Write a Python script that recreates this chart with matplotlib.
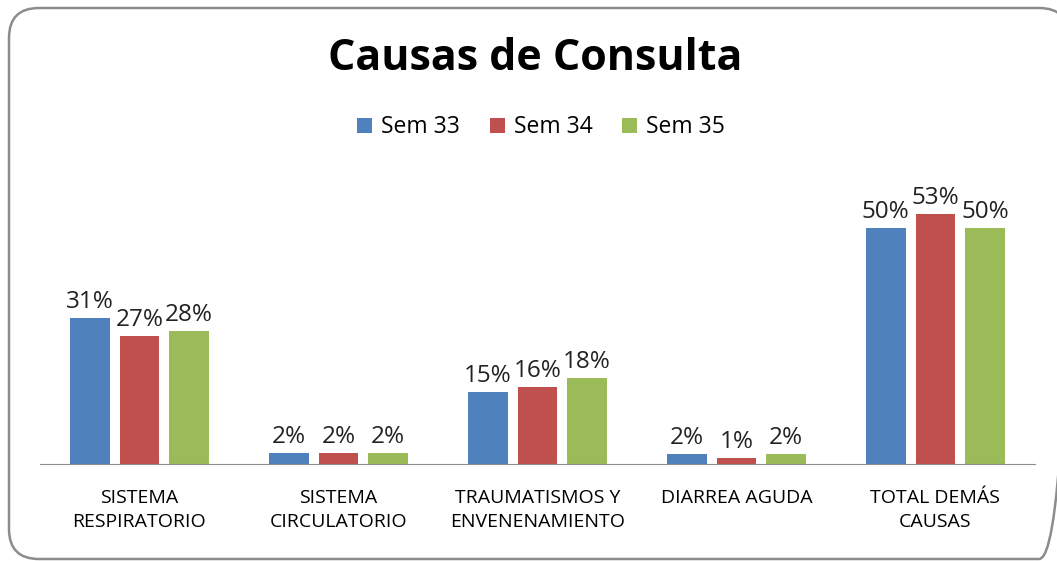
import numpy as np
import matplotlib.pyplot as plt
from matplotlib.patches import FancyBboxPatch

# Data
categories = ['SISTEMA\nRESPIRATORIO', 'SISTEMA\nCIRCULATORIO', 'TRAUMATISMOS Y\nENVENENAMIENTO',
              'DIARREA AGUDA', 'TOTAL DEMÁS\nCAUSAS']
series_names = ['Sem 33', 'Sem 34', 'Sem 35']
sem33 = [0.312, 0.023, 0.154, 0.022, 0.504]
sem34 = [0.274, 0.023, 0.164, 0.012, 0.534]
sem35 = [0.284, 0.023, 0.184, 0.021, 0.504]
colors = ['#4F81BD', '#C0504D', '#9BBB59']

plt.rcParams['font.family'] = ['Open Sans', 'DejaVu Sans']

fig = plt.figure(figsize=(10.57, 5.61), dpi=100)

# background axes in pixel units for the rounded chart border
bg = fig.add_axes([0, 0, 1, 1], zorder=-1)
bg.set_xlim(0, 1057)
bg.set_ylim(561, 0)
bg.axis('off')
bg.add_patch(FancyBboxPatch((9, 8), 1060, 551,
                            boxstyle='round,pad=0,rounding_size=30',
                            fill=False, edgecolor='#8C8C8C', linewidth=1.8))

ax = fig.add_axes([0.0378, 0.1729, 0.9413, 0.50])
x = np.arange(len(categories))
width = 0.2
offsets = [-0.25, 0, 0.25]
for vals, name, col, off in zip([sem33, sem34, sem35], series_names, colors, offsets):
    bars = ax.bar(x + off, vals, width, color=col, label=name)
    for b, v in zip(bars, vals):
        ax.annotate(f'{v:.0%}', (b.get_x() + b.get_width() / 2, b.get_height()),
                    xytext=(0, 3), textcoords='offset points', ha='center', va='bottom',
                    fontsize=17.5, color='#222222')

ax.set_xlim(-0.5, 4.5)
ax.set_ylim(0, 0.60)
ax.set_yticks([])
ax.set_xticks(x)
ax.set_xticklabels(categories, fontsize=14, linespacing=1.4)
ax.tick_params(axis='x', length=0, pad=18)
for s in ['top', 'right', 'left']:
    ax.spines[s].set_visible(False)
ax.spines['bottom'].set_color('#8C8C8C')
ax.patch.set_alpha(0)

fig.text(0.506, 0.895, 'Causas de Consulta', ha='center', va='center',
         fontsize=31, fontweight='bold')
fig.legend(loc='center', bbox_to_anchor=(0.512, 0.773), ncol=3, frameon=False,
           fontsize=16.5, handlelength=0.65, handleheight=0.65, handletextpad=0.4,
           columnspacing=1.3)

fig.savefig('out.png', dpi=100)
